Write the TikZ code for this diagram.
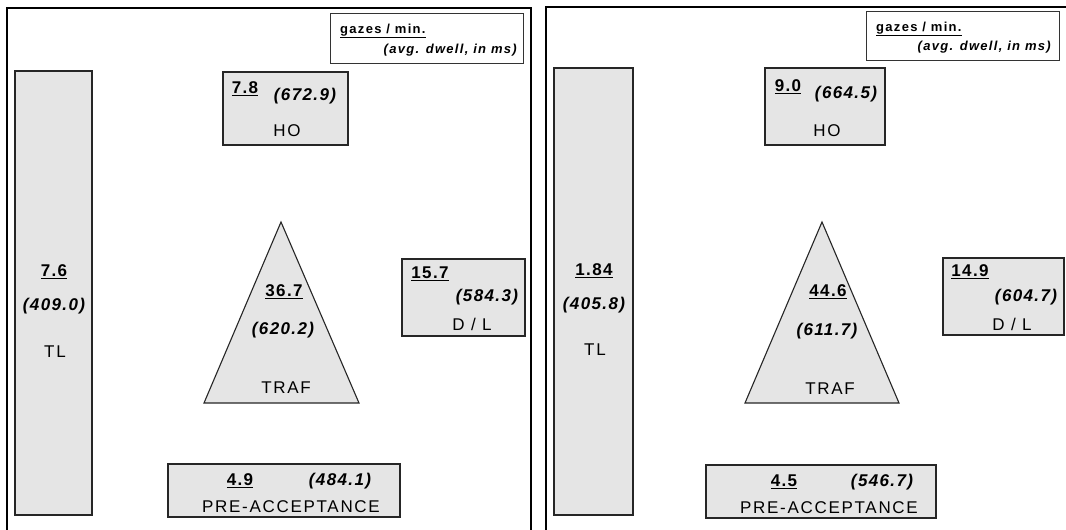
\documentclass[tikz,border=0pt]{standalone}
\usepackage{fontspec}
\setmainfont{Liberation Sans}
\newfontfamily\labfont[LetterSpace=10]{Liberation Sans}
\newfontfamily\numfont[LetterSpace=8]{Liberation Sans}
\newfontfamily\legfont[LetterSpace=10]{Liberation Sans}
\begin{document}
\begin{tikzpicture}[x=1pt,y=-1pt,
  area/.style={draw=black!85, fill=gray!20, line width=1.1pt, inner sep=0, outer sep=0, anchor=north west},
  frame/.style={draw=black, line width=2.8pt},
  legbox/.style={draw=black!80, fill=white, line width=1pt, inner sep=0, outer sep=0, anchor=north west},
  num/.style={font=\numfont\bfseries\fontsize{17}{19}\selectfont, inner sep=0},
  ital/.style={font=\numfont\bfseries\itshape\fontsize{17}{19}\selectfont, inner sep=0},
  lab/.style={font=\labfont\fontsize{17}{19}\selectfont, inner sep=0},
  legA/.style={font=\legfont\bfseries\fontsize{13}{15}\selectfont, inner sep=0, anchor=base west},
  legB/.style={font=\legfont\bfseries\itshape\fontsize{13}{15}\selectfont, inner sep=0, anchor=base east}]
\useasboundingbox (0,0) rectangle (1066,530);
\clip (0,0) rectangle (1066,530);
\fill[white] (0,0) rectangle (1066,530);
% ---------- left panel ----------
\draw[frame] (7,8) rectangle (531,560);
\node[legbox, minimum width=193, minimum height=50] (legL) at (330,13) {};
\node[legA] (legLa) at (340,33) {\underline{gazes / min.}};
\node[legB] (legLb) at (517,53) {(avg. dwell, in ms)};
\node[area, minimum width=77, minimum height=444] (tlL) at (15,71) {};
\node[num] (tlLn) at (54,272) {\underline{7.6}};
\node[ital] (tlLd) at (54,306) {(409.0)};
\node[lab] (tlLl) at (55,352) {TL};
\node[area, minimum width=125, minimum height=73] (hoL) at (223,72) {};
\node[num] (hoLn) at (245,89) {\underline{7.8}};
\node[ital] (hoLd) at (305,96) {(672.9)};
\node[lab] (hoLl) at (287,131) {HO};
\draw[area] (281,222) -- (359,403) -- (204,403) -- cycle;
\node[num] (trLn) at (284,292) {\underline{36.7}};
\node[ital] (trLd) at (283,330) {(620.2)};
\node[lab] (trLl) at (286,388) {TRAF};
\node[area, minimum width=123, minimum height=77] (dlL) at (402,259) {};
\node[num] (dlLn) at (430,274) {\underline{15.7}};
\node[ital] (dlLd) at (487,297) {(584.3)};
\node[lab] (dlLl) at (472,324) {D / L};
\node[area, minimum width=232, minimum height=53] (paL) at (168,464) {};
\node[num] (paLn) at (240,481) {\underline{4.9}};
\node[ital] (paLd) at (340,481) {(484.1)};
\node[lab] (paLl) at (291,507) {PRE-ACCEPTANCE};
% ---------- right panel ----------
\draw[frame] (546,7) rectangle (1090,560);
\node[legbox, minimum width=193, minimum height=49] (legR) at (866,11) {};
\node[legA] (legRa) at (876,31) {\underline{gazes / min.}};
\node[legB] (legRb) at (1051,50) {(avg. dwell, in ms)};
\node[area, minimum width=79, minimum height=447] (tlR) at (554,68) {};
\node[num] (tlRn) at (594,271) {\underline{1.84}};
\node[ital] (tlRd) at (594,305) {(405.8)};
\node[lab] (tlRl) at (595,350) {TL};
\node[area, minimum width=120, minimum height=77] (hoR) at (765,68) {};
\node[num] (hoRn) at (788,87) {\underline{9.0}};
\node[ital] (hoRd) at (846,94) {(664.5)};
\node[lab] (hoRl) at (827,131) {HO};
\draw[area] (822,222) -- (899,403) -- (745,403) -- cycle;
\node[num] (trRn) at (828,292) {\underline{44.6}};
\node[ital] (trRd) at (827,331) {(611.7)};
\node[lab] (trRl) at (830,389) {TRAF};
\node[area, minimum width=121, minimum height=77] (dlR) at (943,258) {};
\node[num] (dlRn) at (970,272) {\underline{14.9}};
\node[ital] (dlRd) at (1026,297) {(604.7)};
\node[lab] (dlRl) at (1012,324) {D / L};
\node[area, minimum width=230, minimum height=53] (paR) at (706,465) {};
\node[num] (paRn) at (784,482) {\underline{4.5}};
\node[ital] (paRd) at (882,482) {(546.7)};
\node[lab] (paRl) at (829,508) {PRE-ACCEPTANCE};
\end{tikzpicture}
\end{document}
